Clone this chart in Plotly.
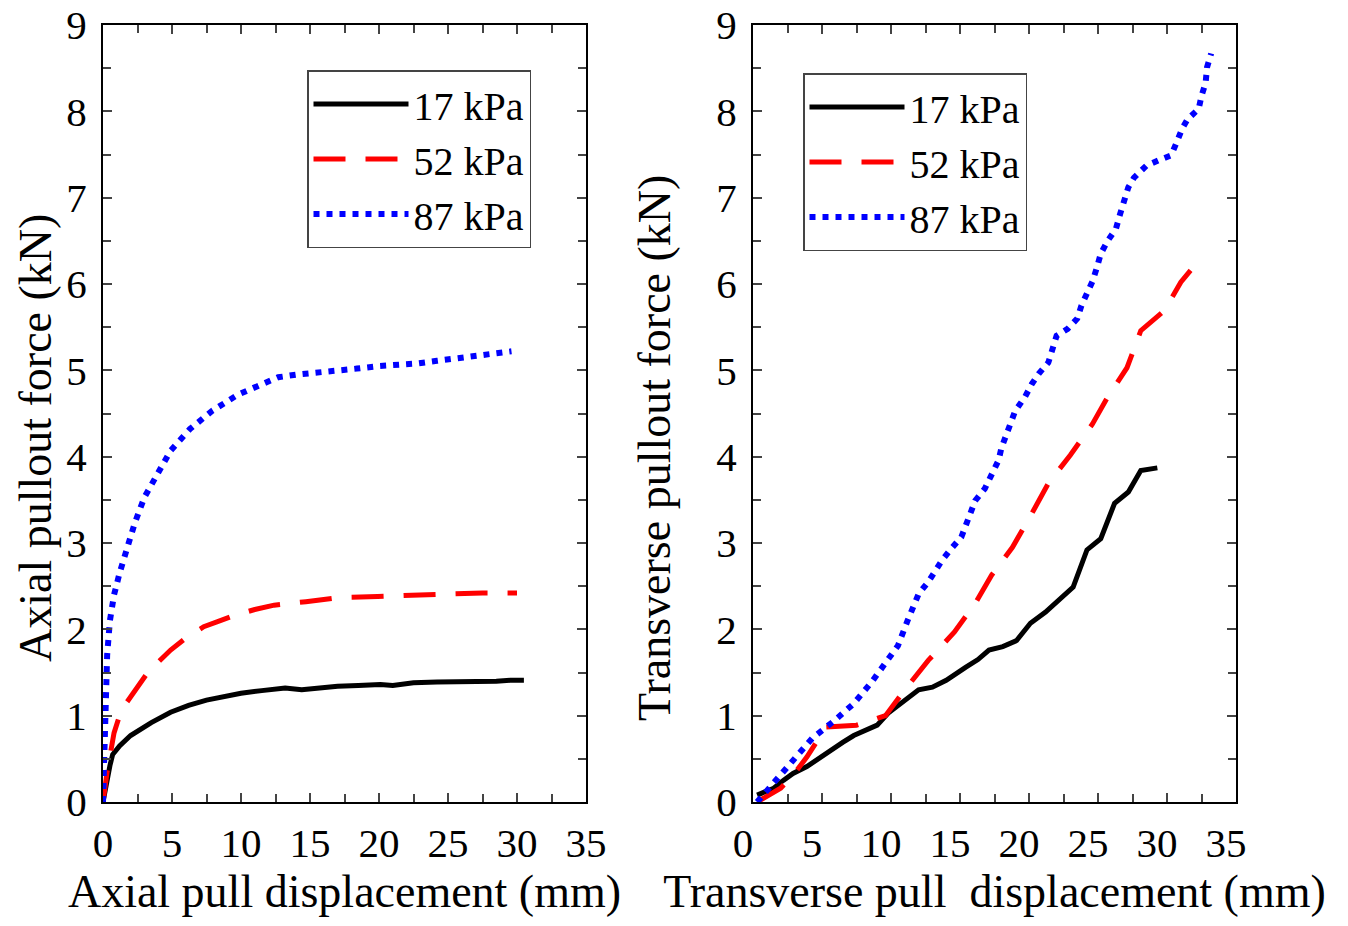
import plotly.graph_objects as go

# ---------------- data: axial pull (left) ----------------
ax17_x = [0, 0.2, 0.5, 0.7, 1.2, 2.0, 2.8, 3.5, 4.9, 6.2, 7.5, 8.8, 10.0, 11.5, 13.2, 14.4, 15.5,
          17.0, 18.5, 20.1, 21.0, 22.5, 24.2, 25.5, 27.0, 28.5, 29.5, 30.5]
ax17_y = [0, 0.2, 0.42, 0.55, 0.65, 0.77, 0.85, 0.92, 1.04, 1.12, 1.18, 1.22, 1.26, 1.29, 1.32, 1.30, 1.32,
          1.34, 1.35, 1.36, 1.35, 1.38, 1.39, 1.39, 1.40, 1.40, 1.41, 1.41]

ax52_x = [0, 0.3, 0.8, 1.2, 1.7, 2.5, 3.2, 4.0, 4.9, 6.0, 7.3, 8.5, 9.5, 11.0, 12.4, 14.7, 17.2,
          19.9, 22.5, 25.0, 27.5, 30.0]
ax52_y = [0, 0.35, 0.8, 1.0, 1.15, 1.33, 1.49, 1.62, 1.76, 1.9, 2.03, 2.1, 2.16, 2.23, 2.28, 2.32, 2.37,
          2.38, 2.40, 2.41, 2.42, 2.42]

ax87_x = [0, 0.1, 0.2, 0.3, 0.5, 0.8, 1.2, 1.7, 2.3, 3.0, 3.9, 4.9, 6.3, 7.9, 9.8, 11.5, 12.7, 14.0,
          15.5, 17.0, 18.4, 20.0, 21.3, 22.8, 24.2, 25.6, 27.0, 28.3, 29.6]
ax87_y = [0, 0.6, 1.2, 1.7, 2.1, 2.4, 2.65, 2.92, 3.23, 3.53, 3.8, 4.07, 4.32, 4.53, 4.72, 4.84, 4.92, 4.95,
          4.97, 5.0, 5.02, 5.05, 5.06, 5.08, 5.11, 5.14, 5.17, 5.19, 5.22]

# ---------------- data: transverse pull (right) ----------------
tr17_x = [0.3, 0.8, 1.5, 2.2, 2.9, 3.9, 4.7, 5.6, 6.5, 7.3, 8.2, 9.0, 9.8, 10.9, 12.0, 13.0, 14.0, 15.4,
          16.3, 17.1, 18.1, 19.1, 20.1, 21.2, 22.2, 23.2, 24.2, 25.2, 26.2, 27.2, 28.1, 29.3]
tr17_y = [0.08, 0.12, 0.16, 0.25, 0.33, 0.41, 0.5, 0.6, 0.69, 0.77, 0.83, 0.89, 1.03, 1.16, 1.30, 1.33, 1.41, 1.56,
          1.65, 1.76, 1.8, 1.87, 2.07, 2.2, 2.34, 2.49, 2.92, 3.05, 3.46, 3.59, 3.84, 3.87]

tr52_x = [0.3, 1.0, 2.0, 3.0, 3.9, 5.3, 6.4, 7.5, 8.5, 9.6, 11.0, 12.7, 14.6, 16.1, 17.3, 18.8, 20.2,
          21.4, 23.0, 24.6, 25.7, 27.1, 28.1, 29.8, 31.0, 32.5]
tr52_y = [0, 0.06, 0.16, 0.33, 0.52, 0.87, 0.88, 0.89, 0.94, 1.0, 1.3, 1.64, 1.97, 2.3, 2.63, 2.95, 3.34,
          3.69, 4.02, 4.38, 4.69, 5.03, 5.46, 5.69, 6.02, 6.31]

tr87_x = [0.3, 1.5, 2.9, 4.3, 5.8, 7.3, 8.6, 9.8, 10.5, 11.2, 12.0, 12.7, 13.7, 14.4, 15.1, 16.1, 16.8,
          17.8, 18.0, 19.0, 19.7, 20.2, 20.7, 21.4, 21.7, 22.0, 22.8, 23.5, 23.8, 24.2, 24.6, 24.9, 25.2,
          25.7, 26.3, 26.6, 26.9, 27.2, 27.6, 28.5, 29.5, 30.3, 30.7, 31.1, 31.5, 32.3, 32.5, 32.8, 32.9, 33.2]
tr87_y = [0.0, 0.23, 0.48, 0.74, 0.93, 1.14, 1.39, 1.66, 1.81, 2.1, 2.41, 2.55, 2.8, 2.94, 3.07, 3.49, 3.63,
          3.96, 4.1, 4.53, 4.69, 4.84, 4.96, 5.09, 5.25, 5.4, 5.48, 5.6, 5.75, 5.88, 6.03, 6.18, 6.35,
          6.5, 6.64, 6.81, 6.97, 7.12, 7.23, 7.37, 7.44, 7.49, 7.64, 7.8, 7.91, 8.03, 8.18, 8.33, 8.51, 8.67]

series_names = ["17 kPa", "52 kPa", "87 kPa"]
x_ticks = [0, 5, 10, 15, 20, 25, 30, 35]
y_ticks = [0, 1, 2, 3, 4, 5, 6, 7, 8, 9]

FONT = "Liberation Serif"
styles = [
    dict(color="#000000", width=5, dash="solid"),
    dict(color="#FF0000", width=5, dash="32px,20px"),
    dict(color="#0000FF", width=6, dash="6px,7px"),
]

fig = go.Figure()
left = [(ax17_x, ax17_y), (ax52_x, ax52_y), (ax87_x, ax87_y)]
right = [(tr17_x, tr17_y), (tr52_x, tr52_y), (tr87_x, tr87_y)]
for i, (xs, ys) in enumerate(left):
    fig.add_trace(go.Scatter(x=xs, y=ys, mode="lines", name=series_names[i], line=styles[i],
                             xaxis="x", yaxis="y", legend="legend", legendgroup="L%d" % i))
for i, (xs, ys) in enumerate(right):
    fig.add_trace(go.Scatter(x=xs, y=ys, mode="lines", name=series_names[i], line=styles[i],
                             xaxis="x2", yaxis="y2", legend="legend2", legendgroup="R%d" % i))

# the page's body margin is removed (post_script), so the figure fills the window from (0,0)
W, H = 1348, 926

def px_x(p):
    return p / W

def px_y(p):
    return (H - p) / H

yd = [px_y(802), px_y(25)]

def xaxis(domain, anchor, title, shift=0):
    return dict(domain=domain, anchor=anchor, range=[0, 35], tickvals=x_ticks, ticks="inside", ticklen=9,
                tickwidth=2, minor=dict(dtick=2.5, tick0=0, ticks="inside", ticklen=8, tickwidth=2),
                showline=True, linewidth=2, linecolor="black", mirror="allticks", showgrid=False,
                zeroline=False, automargin=False, tickfont=dict(family=FONT, size=41, color="black"),
                ticklabelshift=shift, ticklabelstandoff=4, ticklabeloverflow="allow",
                title=dict(text=title, font=dict(family=FONT, size=46, color="black"), standoff=6))

def yaxis(domain, anchor):
    return dict(domain=domain, anchor=anchor, range=[0, 9], tickvals=y_ticks, ticks="inside", ticklen=9,
                tickwidth=2, minor=dict(dtick=0.5, tick0=0, ticks="inside", ticklen=8, tickwidth=2),
                showline=True, linewidth=2, linecolor="black", mirror="allticks", showgrid=False,
                zeroline=False, automargin=False, tickfont=dict(family=FONT, size=41, color="black"),
                ticklabelstandoff=6, ticklabeloverflow="allow")

legend_common = dict(font=dict(family=FONT, size=40, color="black"), bgcolor="white",
                     bordercolor="#444444", borderwidth=1.5, xanchor="left", yanchor="top",
                     itemwidth=95, tracegroupgap=1, traceorder="normal")

fig.update_layout(
    width=W, height=H, margin=dict(l=0, r=0, t=0, b=0, autoexpand=False),
    paper_bgcolor="white", plot_bgcolor="white", showlegend=True,
    xaxis=xaxis([px_x(103), px_x(586)], "y", "Axial pull displacement (mm)"),
    yaxis=yaxis(yd, "x"),
    xaxis2=xaxis([px_x(753), px_x(1236)], "y2", "Transverse pull  displacement (mm)", shift=-10),
    yaxis2=yaxis(yd, "x2"),
    legend=dict(legend_common, x=px_x(307), y=px_y(70)),
    legend2=dict(legend_common, x=px_x(803), y=px_y(73)),
    annotations=[
        dict(text="Axial pullout force (kN)", textangle=-90, xref="paper", yref="paper",
             x=px_x(35), y=px_y(438), showarrow=False, xanchor="center", yanchor="middle",
             font=dict(family=FONT, size=46, color="black")),
        dict(text="Transverse pullout force (kN)", textangle=-90, xref="paper", yref="paper",
             x=px_x(655), y=px_y(448), showarrow=False, xanchor="center", yanchor="middle",
             font=dict(family=FONT, size=46, color="black")),
    ],
)

fig.write_html("out.html", config={"displayModeBar": False},
               post_script="document.body.style.margin='0px';")
